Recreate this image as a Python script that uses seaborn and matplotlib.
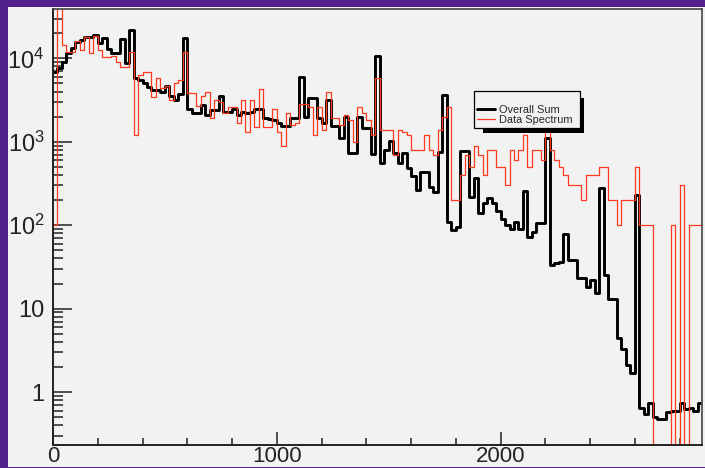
import numpy as np
import pandas as pd
import matplotlib
matplotlib.use("Agg")
import matplotlib.pyplot as plt
from matplotlib.patches import Rectangle
from matplotlib.lines import Line2D
from matplotlib.ticker import (FixedLocator, FixedFormatter, MultipleLocator,
                               LogLocator, NullFormatter)
import seaborn as sns

# Gamma spectrum, 20 keV bins from 0 to 2900 keV
bin_width = 20

overall_sum = [
    6900, 7600, 9100, 11700, 13200, 15500, 16500, 18000, 18000, 19000,
    15200, 17300, 12800, 11500, 11500, 16900, 8700, 21800, 5800, 5500,
    5000, 4500, 4200, 4200, 3900, 4600, 3500, 3200, 3700, 17300,
    2500, 2200, 2200, 2750, 2100, 2400, 2400, 3500, 2300, 2300,
    2500, 2100, 2300, 2200, 2300, 2500, 2500, 1900, 1850, 1800,
    1700, 1560, 1560, 1900, 1900, 5900, 2000, 3300, 3300, 1900,
    1700, 3200, 1560, 1560, 1100, 2000, 740, 740, 2000, 1450,
    1450, 710, 10600, 560, 800, 1020, 725, 560, 740, 480,
    390, 265, 440, 440, 290, 250, 760, 3600, 110, 87,
    95, 780, 780, 220, 364, 141, 186, 209, 186, 149,
    120, 100, 91, 110, 91, 259, 73, 83, 107, 107,
    1100, 33, 35, 36, 78, 38, 38, 23, 23, 18.3,
    22, 15.2, 276, 25, 13.2, 13.2, 4.4, 3.3, 2.1, 1.67,
    230, 0.64, 0.55, 0.73, 0.50, 0.47, 0.47, 0.58, 0.60, 0.60,
    0.74, 0.62, 0.64, 0.60, 0.74,
]

data_spectrum = [
    100, 60000, 14400, 12000, 12000, 16000, 12600, 18200, 11500, 18500,
    12600, 10400, 10400, 10600, 9100, 7900, 7900, 12000, 1200, 6300,
    6900, 6900, 3400, 5800, 4400, 4600, 3200, 5000, 5500, 12000,
    3800, 3800, 2700, 3500, 4000, 1900, 3200, 3000, 2200, 2600,
    2600, 1700, 3200, 1300, 3200, 1500, 4300, 1500, 1500, 2500,
    1300, 900, 2200, 1600, 1700, 2800, 2800, 2600, 1200, 2600,
    1400, 4000, 1900, 1900, 1600, 2100, 1800, 1000, 2600, 2200,
    1800, 1200, 5800, 1400, 1400, 1400, 700, 1400, 1300, 1200,
    800, 800, 800, 1200, 800, 700, 1400, 2000, 2600, 200,
    200, 400, 700, 500, 900, 700, 400, 800, 800, 500,
    500, 300, 800, 600, 800, 1200, 500, 800, 800, 600,
    1400, 800, 600, 500, 400, 300, 300, 300, 200, 400,
    400, 400, 500, 500, 200, 200, 100, 200, 200, 200,
    500, 100, 100, 100, 0, 0, 0, 0, 100, 0,
    300, 0, 100, 100, 100,
]

series_labels = ["Overall Sum", "Data Spectrum"]
x_ticks = [0, 1000, 2000]
x_tick_labels = ["0", "1000", "2000"]
y_ticks = [1, 10, 100, 1000, 10000]
y_tick_labels = ["1", "10", r"$\mathregular{10^{2}}$",
                 r"$\mathregular{10^{3}}$", r"$\mathregular{10^{4}}$"]

sns.set_style("ticks")
plt.rcParams["font.family"] = ["Liberation Sans", "DejaVu Sans"]
plt.rcParams["mathtext.fontset"] = "custom"
plt.rcParams["mathtext.rm"] = "Liberation Sans"
plt.rcParams["mathtext.it"] = "Liberation Sans:italic"
plt.rcParams["mathtext.bf"] = "Liberation Sans:bold"

n_bins = len(overall_sum)
energy = np.arange(n_bins) * bin_width + bin_width / 2
df = pd.DataFrame({"energy": energy,
                   "sum_counts": overall_sum,
                   "data_counts": data_spectrum})

W, H = 705, 468
purple = "#51208a"
panel = "#f2f2f2"
red = "#ff3a1e"


def fx(px):
    return px / W


def fy(py):
    return 1 - py / H


fig = plt.figure(figsize=(W / 100, H / 100), dpi=100, facecolor=purple)
canvas_rect = Rectangle((fx(8), fy(467)), fx(697), 460 / H,
                        transform=fig.transFigure, facecolor=panel,
                        edgecolor="none")
canvas_rect.set_zorder(-10)
fig.patches.append(canvas_rect)

ax = fig.add_axes([fx(53), fy(445), (702 - 53) / W, (445 - 9) / H])
ax.set_zorder(1)
ax.set_facecolor(panel)

hist_range = (0, n_bins * bin_width)
sns.histplot(data=df, x="energy", weights="sum_counts", binwidth=bin_width,
             binrange=hist_range, element="step", fill=False,
             color="black", linewidth=2.1, ax=ax)
sns.histplot(data=df, x="energy", weights="data_counts", binwidth=bin_width,
             binrange=hist_range, element="step", fill=False,
             color=red, linewidth=0.9, ax=ax)

ax.set_yscale("log")
ax.set_xlim(0, 2900)
ax.set_ylim(0.232, 39000)
ax.set_xlabel("")
ax.set_ylabel("")

ax.xaxis.set_major_locator(FixedLocator(x_ticks))
ax.xaxis.set_major_formatter(FixedFormatter(x_tick_labels))
ax.xaxis.set_minor_locator(MultipleLocator(200))
ax.yaxis.set_major_locator(FixedLocator(y_ticks))
ax.yaxis.set_major_formatter(FixedFormatter(y_tick_labels))
ax.yaxis.set_minor_locator(LogLocator(base=10, subs=np.arange(2, 10), numticks=20))
ax.yaxis.set_minor_formatter(NullFormatter())

ax.tick_params(axis="y", which="major", direction="in", length=14, width=1.1,
               pad=6, labelsize=17, colors="#222222", left=True, right=False)
ax.tick_params(axis="y", which="minor", direction="in", length=7.2, width=1.1,
               colors="#222222", left=True, right=False)
ax.tick_params(axis="x", which="major", direction="in", length=9.5, width=1.1,
               pad=1, labelsize=16, colors="#222222", bottom=True, top=False)
ax.tick_params(axis="x", which="minor", direction="in", length=5.3, width=1.1,
               colors="#222222", bottom=True, top=False)

for side in ("left", "bottom"):
    ax.spines[side].set_color("#222222")
    ax.spines[side].set_linewidth(1.4)
for side in ("top", "right"):
    ax.spines[side].set_visible(True)
    ax.spines[side].set_color("#444444")
    ax.spines[side].set_linewidth(1.2)

# Legend box with its block shadow
box_kw = dict(transform=fig.transFigure, clip_on=False, zorder=4)
ax.add_patch(Rectangle((fx(580), fy(132.7)), fx(4), (132.7 - 98) / H,
                       facecolor="black", edgecolor="none", **box_kw))
ax.add_patch(Rectangle((fx(482.7), fy(132.7)), fx(584 - 482.7), 4.4 / H,
                       facecolor="black", edgecolor="none", **box_kw))
ax.add_patch(Rectangle((fx(474), fy(128.3)), fx(106), 37.6 / H,
                       facecolor=panel, edgecolor="black", linewidth=0.9,
                       **box_kw))

handles = [Line2D([], [], color="black", linewidth=2.1),
           Line2D([], [], color=red, linewidth=0.9)]
ax.legend(handles=handles, labels=series_labels, loc="center left",
          bbox_to_anchor=(fx(477), fy(115.2)), bbox_transform=fig.transFigure,
          frameon=False, fontsize=7.9, handlelength=1.64, handletextpad=0.36,
          labelspacing=0.0, borderpad=0, borderaxespad=0)

fig.savefig("out.png", dpi=100, facecolor=fig.get_facecolor())
